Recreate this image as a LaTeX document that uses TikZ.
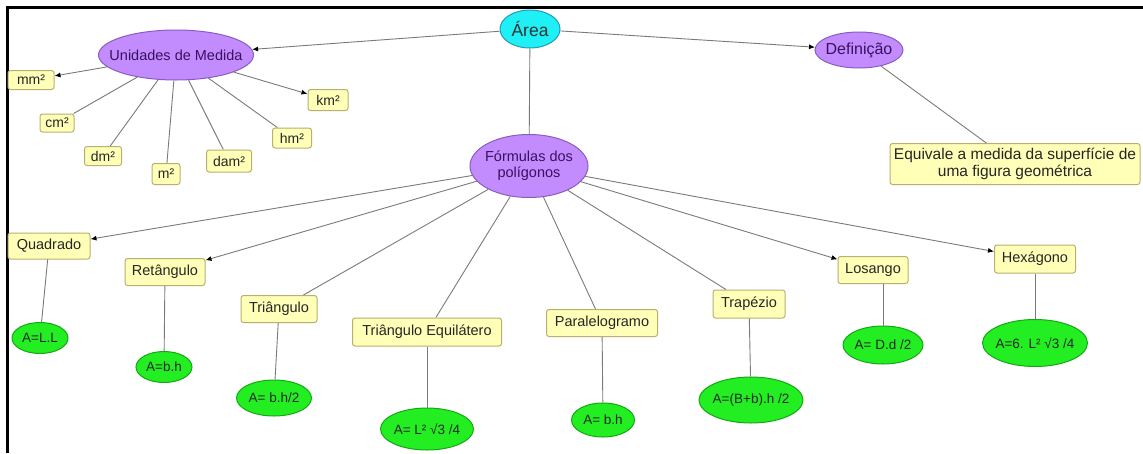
\documentclass[tikz,border=0pt]{standalone}
\usepackage{fontspec}
\setmainfont{Liberation Sans}
\usetikzlibrary{shapes.geometric,arrows.meta}

\definecolor{boxfill}{HTML}{FFFFB8}
\definecolor{boxline}{HTML}{B8B070}
\definecolor{lilac}{HTML}{C28CFF}
\definecolor{lilacline}{HTML}{8A5CC0}
\definecolor{lilactext}{HTML}{3A1060}
\definecolor{aqua}{HTML}{1EF0F5}
\definecolor{aqualine}{HTML}{2898B8}
\definecolor{leaf}{HTML}{22EE22}
\definecolor{leafline}{HTML}{14A814}
\definecolor{linkgray}{HTML}{7A7A7A}

\tikzset{
  % ellipses take their size from minimum width/height only
  oval/.style={ellipse, line width=1pt, inner xsep=-20pt, inner ysep=-6pt},
  unitbox/.style={rectangle, rounded corners=2.5pt, fill=boxfill, draw=boxline,
    line width=1pt, font=\fontsize{14}{15}\selectfont, text=black!85, inner sep=0.5pt},
  shapebox/.style={unitbox, font=\fontsize{14.5}{16}\selectfont},
  topic/.style={oval, fill=lilac, draw=lilacline, text=lilactext, align=center},
  root/.style={oval, fill=aqua, draw=aqualine, text=black!80,
    font=\fontsize{17.5}{19}\selectfont},
  formula/.style={oval, fill=leaf, draw=leafline, text=black!85,
    font=\fontsize{13.5}{15}\selectfont},
  link/.style={draw=linkgray, line width=0.9pt},
  arrowlink/.style={link, -{Latex[length=6pt,width=5pt,color=black]}}
}

\begin{document}
\begin{tikzpicture}[x=1pt,y=-1pt]
\path[use as bounding box] (0,0) rectangle (1143,453);
% frame on the top and left edges
\draw[line width=2.4pt, black] (7.5,453) -- (7.5,7.5) -- (1143,7.5);

% main concepts
\node[root, minimum width=60pt, minimum height=38pt] (area) at (530,29) {Área};
\node[topic, minimum width=155pt, minimum height=50pt, font=\fontsize{14.5}{17}\selectfont] (unid) at (176,55) {Unidades de Medida};
\node[topic, minimum width=88pt, minimum height=36pt, font=\fontsize{16}{18}\selectfont] (defi) at (859,50) {Definição};
\node[topic, minimum width=118pt, minimum height=63pt, font=\fontsize{14.5}{16}\selectfont] (form) at (529,166) {Fórmulas dos\\polígonos};
\node[unitbox, minimum width=250pt, minimum height=41pt, align=center,
  font=\fontsize{15.5}{17.5}\selectfont] (equi) at (1015,164)
  {Equivale a medida da superfície de\\uma figura geométrica};

% units of measure
\node[unitbox, minimum width=46pt, minimum height=19pt] (mm) at (31,80) {mm²};
\node[unitbox, minimum width=34pt, minimum height=18pt] (cm) at (57,123) {cm²};
\node[unitbox, minimum width=37pt, minimum height=19pt] (dm) at (103,156) {dm²};
\node[unitbox, minimum width=28pt, minimum height=21pt] (m) at (166,174) {m²};
\node[unitbox, minimum width=45pt, minimum height=22pt] (dam) at (229,161) {dam²};
\node[unitbox, minimum width=39pt, minimum height=20pt] (hm) at (292,138) {hm²};
\node[unitbox, minimum width=40pt, minimum height=21pt] (km) at (328,100) {km²};

% polygons
\node[shapebox, minimum width=82pt, minimum height=26pt] (quad) at (49,246) {Quadrado};
\node[shapebox, minimum width=80pt, minimum height=27pt] (ret) at (165,272) {Retângulo};
\node[shapebox, minimum width=76pt, minimum height=27pt] (tri) at (279,309) {Triângulo};
\node[shapebox, minimum width=149pt, minimum height=28pt] (trieq) at (427,332) {Triângulo Equilátero};
\node[shapebox, minimum width=111pt, minimum height=27pt] (para) at (602,323) {Paralelogramo};
\node[shapebox, minimum width=72pt, minimum height=28pt] (trap) at (749,304) {Trapézio};
\node[shapebox, minimum width=70pt, minimum height=27pt] (los) at (873,270) {Losango};
\node[shapebox, minimum width=81pt, minimum height=28pt] (hex) at (1035,259) {Hexágono};

% area formulas
\node[formula, minimum width=56pt, minimum height=31pt] (fquad) at (40,338) {A=L.L};
\node[formula, minimum width=56pt, minimum height=31pt] (fret) at (164,367) {A=b.h};
\node[formula, minimum width=75pt, minimum height=36pt] (ftri) at (274,398) {A= b.h/2};
\node[formula, minimum width=93pt, minimum height=42pt] (ftrieq) at (427,429) {A= L² √3 /4};
\node[formula, minimum width=63pt, minimum height=34pt] (fpara) at (603,420) {A= b.h};
\node[formula, minimum width=104pt, minimum height=46pt] (ftrap) at (751,400) {A=(B+b).h /2};
\node[formula, minimum width=80pt, minimum height=38pt] (flos) at (883,345) {A= D.d /2};
\node[formula, minimum width=105pt, minimum height=47pt] (fhex) at (1035,343) {A=6. L² √3 /4};

% links from the root
\draw[arrowlink] (area) -- (unid);
\draw[arrowlink] (area) -- (defi);
\draw[link] (area) -- (form);
\draw[link] (defi) -- (equi);

% links to the units
\draw[arrowlink] (unid) -- (mm);
\draw[link] (unid) -- (cm);
\draw[link] (unid) -- (dm);
\draw[link] (unid) -- (m);
\draw[link] (unid) -- (dam);
\draw[link] (unid) -- (hm);
\draw[arrowlink] (unid) -- (km);

% links to the polygons
\draw[arrowlink] (form) -- (quad);
\draw[arrowlink] (form) -- (ret);
\draw[link] (form) -- (tri);
\draw[link] (form) -- (trieq);
\draw[link] (form) -- (para);
\draw[link] (form) -- (trap);
\draw[arrowlink] (form) -- (los);
\draw[arrowlink] (form) -- (hex);

% links to the formulas
\draw[link] (quad) -- (fquad);
\draw[link] (ret) -- (fret);
\draw[link] (tri) -- (ftri);
\draw[link] (trieq) -- (ftrieq);
\draw[link] (para) -- (fpara);
\draw[link] (trap) -- (ftrap);
\draw[link] (los.south -| flos.north) -- (flos.north);
\draw[link] (hex) -- (fhex);
\end{tikzpicture}
\end{document}
